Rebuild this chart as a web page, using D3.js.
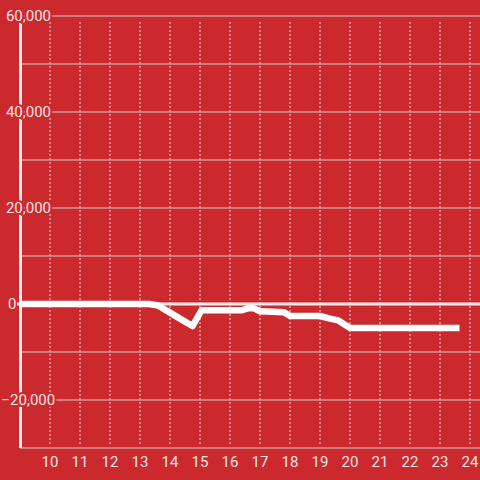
<!DOCTYPE html>
<html>
<head>
<meta charset="utf-8">
<script src="https://cdn.jsdelivr.net/npm/d3@7"></script>
<style>
html,body{margin:0;padding:0;background:#cc292e;}
svg{display:block;}
text{font-family:Roboto, sans-serif;}
</style>
</head>
<body>
<svg id="chart" width="480" height="480"></svg>
<script>
// Data (hour of day, value)
const hours = [9.0, 13.3, 13.6, 14.0, 14.4, 14.75, 15.05, 16.4, 16.6, 16.8, 17.0, 17.8, 18.0, 19.0, 19.3, 19.6, 20.0, 23.65];
const values = [0, 0, -300, -1800, -3300, -4600, -1300, -1300, -900, -900, -1500, -1700, -2500, -2500, -3000, -3400, -5000, -5000];
const xTicks = [10, 11, 12, 13, 14, 15, 16, 17, 18, 19, 20, 21, 22, 23, 24];
const yGrid = [60000, 50000, 40000, 30000, 20000, 10000, 0, -10000, -20000, -30000];
const yLabels = [60000, 40000, 20000, 0, -20000];

const svg = d3.select("#chart");
const bg = "#cc292e";
svg.append("rect").attr("width", 480).attr("height", 480).attr("fill", bg);

const x = d3.scaleLinear().domain([9, 24 + 1/3]).range([20, 480]);
const y = d3.scaleLinear().domain([-30000, 60000]).range([448, 16]);

// horizontal grid
svg.append("g").selectAll("line").data(yGrid).join("line")
  .attr("x1", 20).attr("x2", 480)
  .attr("y1", d => y(d)).attr("y2", d => y(d))
  .attr("stroke", "#d6cccc").attr("stroke-width", 1);

// vertical dashed grid
svg.append("g").selectAll("line").data(xTicks).join("line")
  .attr("x1", d => x(d)).attr("x2", d => x(d))
  .attr("y1", 22).attr("y2", 446)
  .attr("stroke", "#e6dede").attr("stroke-width", 1)
  .attr("stroke-dasharray", "2,2");

// zero line
svg.append("line")
  .attr("x1", 17).attr("x2", 480)
  .attr("y1", y(0)).attr("y2", y(0))
  .attr("stroke", "#f2eeee").attr("stroke-width", 3);

// y axis line
svg.append("line")
  .attr("x1", 20.5).attr("x2", 20.5)
  .attr("y1", 16).attr("y2", 448)
  .attr("stroke", "#f2eeee").attr("stroke-width", 3);

// data line
const line = d3.line().x((d, i) => x(hours[i])).y(d => y(d));
svg.append("path")
  .datum(values)
  .attr("d", line)
  .attr("fill", "none")
  .attr("stroke", "#ffffff")
  .attr("stroke-width", 6.5)
  .attr("stroke-linejoin", "round")
  .attr("stroke-linecap", "butt");

// y labels with halo
const fmt = d3.format(",");
svg.append("g").selectAll("text").data(yLabels).join("text")
  .attr("x", d => d === 0 ? 8 : (d < 0 ? 1.5 : 51))
  .attr("y", d => y(d))
  .attr("dy", "0.36em")
  .attr("text-anchor", d => d > 0 ? "end" : "start")
  .attr("font-size", 15)
  .attr("fill", "#f3e4e4")
  .attr("stroke", d => d === 0 ? "none" : bg)
  .attr("stroke-width", 4)
  .attr("paint-order", "stroke")
  .text(d => fmt(d));

// x labels
svg.append("g").selectAll("text").data(xTicks).join("text")
  .attr("x", d => x(d))
  .attr("y", 466.5)
  .attr("text-anchor", "middle")
  .attr("font-size", 15)
  .attr("fill", "#f3e4e4")
  .text(d => d);
</script>
</body>
</html>
